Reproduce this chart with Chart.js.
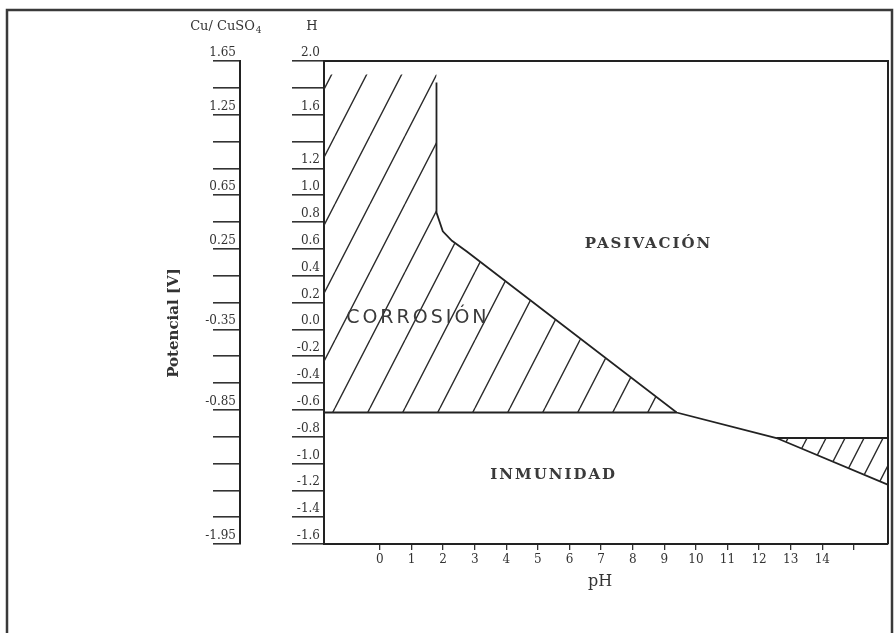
<!DOCTYPE html>
<html>
<head>
<meta charset="utf-8">
<script src="https://cdn.jsdelivr.net/npm/chart.js@4.4.1/dist/chart.umd.min.js"></script>
<style>
  html, body { margin: 0; padding: 0; background: #fff; }
  #wrap { position: relative; width: 894px; height: 633px; overflow: hidden; }
  canvas { position: absolute; left: 0; top: 0; }
</style>
</head>
<body>
<div id="wrap"><canvas id="pourbaix" width="894" height="633"></canvas></div>
<script>
// Diagrama potencial-pH del hierro (zonas de corrosión, pasivación e inmunidad)

// eje de pH
const phTicks = [0, 1, 2, 3, 4, 5, 6, 7, 8, 9, 10, 11, 12, 13, 14, 15];
const phLabels = ['0', '1', '2', '3', '4', '5', '6', '7', '8', '9', '10', '11', '12', '13', '14', ''];

// eje de potencial, escala del electrodo de hidrógeno (de abajo a arriba)
const hTicks = [-1.6, -1.4, -1.2, -1.0, -0.8, -0.6, -0.4, -0.2, 0.0, 0.2, 0.4, 0.6, 0.8, 1.0, 1.2, 1.4, 1.6, 1.8, 2.0];
const hLabels = ['-1.6', '-1.4', '-1.2', '-1.0', '-0.8', '-0.6', '-0.4', '-0.2', '0.0', '0.2', '0.4', '0.6', '0.8', '1.0', '1.2', '', '1.6', '', '2.0'];
// mismas marcas rotuladas respecto al electrodo Cu/CuSO4
const cuLabels = ['-1.95', '', '', '', '', '-0.85', '', '', '-0.35', '', '', '0.25', '', '0.65', '', '', '1.25', '', '1.65'];

// frontera corrosión / pasivación / inmunidad
const limitePh = [1.79, 1.79, 1.99, 2.28, 2.75, 9.39, 12.55, 16.1];
const limiteE = [1.84, 0.87, 0.73, 0.66, 0.58, -0.62, -0.81, -1.16];
// corrosión / inmunidad
const inmunidadPh = [-1.8, 9.39];
const inmunidadE = [-0.62, -0.62];
// corrosión alcalina / pasivación
const alcalinaPh = [12.55, 16.1];
const alcalinaE = [-0.81, -0.81];

// zonas rayadas
const corrosionPh = [-1.8, 1.79, 1.79, 1.99, 2.28, 2.75, 9.39, -1.8];
const corrosionE = [1.9, 1.9, 0.87, 0.73, 0.66, 0.58, -0.62, -0.62];
const alcalinaZonaPh = [12.55, 16.1, 16.1];
const alcalinaZonaE = [-0.81, -0.81, -1.16];

// rótulos de zona
const zonaTextos = ['CORROSIÓN', 'PASIVACIÓN', 'INMUNIDAD'];
const zonaPh = [1.2, 8.5, 5.5];
const zonaE = [0.085, 0.636, -1.09];

const pares = (xs, ys) => xs.map((x, i) => ({ x: x, y: ys[i] }));

const canvas = document.getElementById('pourbaix');
const ctx = canvas.getContext('2d');

// trama de líneas inclinadas
function rayado(paso, pendiente, fase) {
  const alto = Math.round(paso * pendiente);
  const tile = document.createElement('canvas');
  tile.width = paso;
  tile.height = alto;
  const g = tile.getContext('2d');
  g.strokeStyle = '#2b2b2b';
  g.lineWidth = 1.4;
  g.beginPath();
  for (let k = -1; k <= 1; k++) {
    g.moveTo(k * paso, alto);
    g.lineTo(k * paso + paso, 0);
  }
  g.stroke();
  const p = ctx.createPattern(tile, 'repeat');
  p.setTransform(new DOMMatrix().translate(fase, 0));
  return p;
}

const serif = 'DejaVu Serif';
const tinta = '#333';

const marco = {
  id: 'marco',
  beforeDraw(chart) {
    const c = chart.ctx;
    c.save();
    c.fillStyle = '#fff';
    c.fillRect(0, 0, chart.width, chart.height);
    c.strokeStyle = '#3a3a3a';
    c.lineWidth = 2.5;
    c.strokeRect(7, 10, 885, 700);
    c.restore();
  },
  afterDraw(chart) {
    const c = chart.ctx;
    const a = chart.chartArea;
    const sx = chart.scales.x, sy = chart.scales.y;
    c.save();
    // bordes superior y derecho del diagrama
    c.strokeStyle = '#222';
    c.lineWidth = 2;
    c.beginPath();
    c.moveTo(a.left, a.top);
    c.lineTo(a.right, a.top);
    c.lineTo(a.right, a.bottom);
    c.stroke();

    // encabezados de las escalas
    c.fillStyle = tinta;
    c.textBaseline = 'middle';
    c.textAlign = 'left';
    c.font = '13px "' + serif + '"';
    const cab = 'Cu/ CuSO';
    const w = c.measureText(cab).width;
    const x0 = 226 - (w + 7) / 2;
    c.fillText(cab, x0, 27);
    c.font = '9px "' + serif + '"';
    c.fillText('4', x0 + w + 1, 31);
    c.font = '13px "' + serif + '"';
    c.textAlign = 'center';
    c.fillText('H', 312, 27);

    // títulos de los ejes
    c.font = '16px "' + serif + '"';
    c.fillText('pH', 600, 582);
    c.save();
    c.translate(174, 323);
    c.rotate(-Math.PI / 2);
    c.font = 'bold 15px "' + serif + '"';
    c.fillText('Potencial [V]', 0, 0);
    c.restore();

    // rótulos de zona
    c.fillStyle = '#3a3a3a';
    zonaTextos.forEach((t, i) => {
      const x = sx.getPixelForValue(zonaPh[i]);
      const y = sy.getPixelForValue(zonaE[i]);
      if (i === 0) {
        c.font = '19px "DejaVu Sans"';
        c.letterSpacing = '3px';
      } else {
        c.font = 'bold 15px "' + serif + '"';
        c.letterSpacing = '2px';
      }
      c.fillText(t, x, y);
    });
    c.restore();
  }
};

new Chart(ctx, {
  type: 'scatter',
  data: {
    datasets: [
      {
        data: pares(corrosionPh, corrosionE),
        showLine: true, pointRadius: 0, borderColor: 'transparent', borderWidth: 0,
        backgroundColor: rayado(35, 1.95, 20), fill: 'shape'
      },
      {
        data: pares(alcalinaZonaPh, alcalinaZonaE),
        showLine: true, pointRadius: 0, borderColor: 'transparent', borderWidth: 0,
        backgroundColor: rayado(19, 1.95, 6), fill: 'shape'
      },
      { data: pares(limitePh, limiteE), showLine: true, pointRadius: 0, borderColor: '#222', borderWidth: 1.8, fill: false },
      { data: pares(inmunidadPh, inmunidadE), showLine: true, pointRadius: 0, borderColor: '#222', borderWidth: 1.8, fill: false },
      { data: pares(alcalinaPh, alcalinaE), showLine: true, pointRadius: 0, borderColor: '#222', borderWidth: 1.8, fill: false }
    ]
  },
  options: {
    responsive: false,
    animation: false,
    devicePixelRatio: 1,
    layout: { padding: { left: 164, top: 61, right: 6, bottom: 41 } },
    plugins: { legend: { display: false }, tooltip: { enabled: false } },
    scales: {
      x: {
        type: 'linear', min: -1.77, max: 16.08,
        afterBuildTicks: ax => { ax.ticks = phTicks.map(v => ({ value: v })); },
        afterFit: ax => { ax.height = 48; },
        ticks: {
          callback: (v, i) => phLabels[i], autoSkip: false, maxRotation: 0,
          color: tinta, padding: 3, font: { family: serif, size: 12 }
        },
        grid: { drawOnChartArea: false, tickLength: 6, color: '#333', lineWidth: 1.3 },
        border: { color: '#222', width: 2 }
      },
      y: {
        type: 'linear', min: -1.6, max: 2.0, position: 'left', weight: 0,
        afterBuildTicks: ax => { ax.ticks = hTicks.map(v => ({ value: v })); },
        afterFit: ax => { ax.width = 84; },
        ticks: {
          callback: (v, i) => hLabels[i], autoSkip: false,
          color: tinta, padding: -28, labelOffset: -8, font: { family: serif, size: 12 }
        },
        grid: { drawOnChartArea: false, tickLength: 32, color: '#333', lineWidth: 1.6 },
        border: { color: '#222', width: 2 }
      },
      yCu: {
        type: 'linear', min: -1.6, max: 2.0, position: 'left', weight: 10,
        afterBuildTicks: ax => { ax.ticks = hTicks.map(v => ({ value: v })); },
        afterFit: ax => { ax.width = 76; },
        ticks: {
          callback: (v, i) => cuLabels[i], autoSkip: false,
          color: tinta, padding: -23, labelOffset: -8, font: { family: serif, size: 12 }
        },
        grid: { drawOnChartArea: false, tickLength: 27, color: '#333', lineWidth: 1.6 },
        border: { color: '#222', width: 2 }
      }
    }
  },
  plugins: [marco]
});
</script>
</body>
</html>
